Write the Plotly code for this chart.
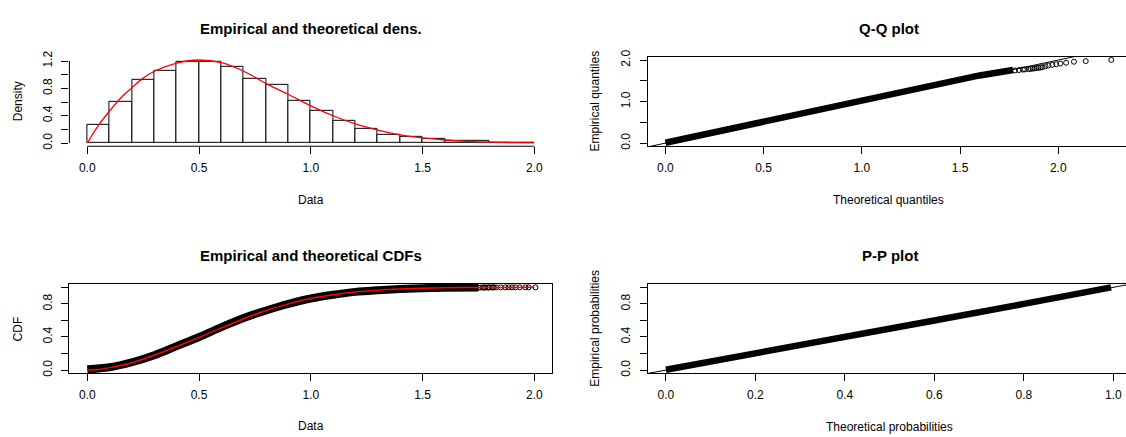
import plotly.graph_objects as go

W, H = 1126, 437

# ---------------- data ----------------
# Histogram of the data (density scale), bins of width 0.1
bin_lefts = [0.0, 0.1, 0.2, 0.3, 0.4, 0.5, 0.6, 0.7, 0.8, 0.9,
             1.0, 1.1, 1.2, 1.3, 1.4, 1.5, 1.6, 1.7, 1.8, 1.9]
bin_density = [0.271, 0.600, 0.918, 1.057, 1.194, 1.194, 1.109, 0.943, 0.847, 0.619,
               0.476, 0.323, 0.209, 0.123, 0.095, 0.057, 0.038, 0.028, 0.010, 0.003]
bin_width = 0.1

# Theoretical density (red curve)
dens_x = [0.0, 0.05, 0.1, 0.15, 0.2, 0.25, 0.3, 0.4, 0.5, 0.6, 0.7, 0.8,
          0.9, 1.0, 1.1, 1.2, 1.3, 1.4, 1.5, 1.6, 1.7, 1.8, 1.9, 2.0]
dens_y = [0.0, 0.26, 0.47, 0.66, 0.81, 0.95, 1.05, 1.17, 1.215, 1.175, 1.05, 0.87,
          0.71, 0.545, 0.40, 0.28, 0.19, 0.12, 0.075, 0.045, 0.026, 0.014, 0.008, 0.004]

# Q-Q plot: dense body of points (theoretical vs empirical quantiles)
qq_body_theo = [0.0, 0.25, 0.5, 0.79, 1.0, 1.25, 1.5, 1.6, 1.77]
qq_body_emp = [0.01, 0.26, 0.51, 0.81, 1.02, 1.26, 1.51, 1.63, 1.76]
# Q-Q plot: separated upper-tail points
tail_theo_q = [1.78, 1.80, 1.82, 1.83, 1.85, 1.86, 1.87, 1.88, 1.89, 1.90, 1.91,
               1.92, 1.935, 1.95, 1.97, 1.99, 2.01, 2.04, 2.08, 2.14, 2.27]
tail_emp = [1.75, 1.76, 1.77, 1.775, 1.78, 1.79, 1.795, 1.80, 1.81, 1.815, 1.82,
            1.83, 1.85, 1.87, 1.885, 1.90, 1.915, 1.935, 1.96, 1.975, 2.005]
identity_ref = [-0.2, 2.6]

# Empirical CDF (dense body of points) and its upper tail
cdf_body_x = [0.0, 0.1, 0.2, 0.3, 0.4, 0.5, 0.6, 0.7, 0.8, 0.9,
              1.0, 1.1, 1.2, 1.3, 1.4, 1.5, 1.6, 1.75]
cdf_body_y = [0.01, 0.035, 0.095, 0.18, 0.29, 0.40, 0.52, 0.63, 0.72, 0.80,
              0.865, 0.91, 0.945, 0.965, 0.98, 0.99, 0.995, 0.997]
cdf_tail_y = [0.9972, 0.9974, 0.9976, 0.9978, 0.998, 0.9982, 0.9984, 0.9986, 0.9988, 0.999, 0.9991,
              0.9992, 0.9993, 0.9994, 0.9995, 0.9996, 0.9997, 0.9998, 0.9999, 0.99995, 1.0]
# Theoretical CDF (red line)
cdf_theo_x = [0.0, 0.05, 0.1, 0.2, 0.3, 0.4, 0.5, 0.6, 0.7, 0.8, 0.9, 1.0,
              1.1, 1.2, 1.3, 1.4, 1.5, 1.6, 1.7, 1.8, 1.9, 2.0]
cdf_theo_y = [0.0, 0.008, 0.03, 0.09, 0.18, 0.285, 0.395, 0.51, 0.62, 0.72, 0.80, 0.865,
              0.91, 0.943, 0.965, 0.98, 0.989, 0.994, 0.997, 0.998, 0.999, 1.0]

# P-P plot: dense body of points
pp_theo = [0.0, 0.2, 0.4, 0.6, 0.8, 0.995]
pp_emp = [0.005, 0.21, 0.405, 0.6, 0.8, 1.0]

# Tick labels
hist_xticks = [0.0, 0.5, 1.0, 1.5, 2.0]
hist_yticks = [0.0, 0.2, 0.4, 0.6, 0.8, 1.0, 1.2]
hist_ytext = ["0.0", "", "0.4", "", "0.8", "", "1.2"]
qq_xticks = [0.0, 0.5, 1.0, 1.5, 2.0]
qq_yticks = [0.0, 0.5, 1.0, 1.5, 2.0]
qq_ytext = ["0.0", "", "1.0", "", "2.0"]
prob_ticks = [0.0, 0.2, 0.4, 0.6, 0.8, 1.0]
prob_ytext = ["0.0", "", "0.4", "", "0.8", ""]

# ---------------- figure ----------------
FONT = "Liberation Sans, Arial, sans-serif"
fig = go.Figure()

fig.add_trace(go.Bar(x=[l + bin_width / 2 for l in bin_lefts], y=bin_density, width=bin_width,
                     marker=dict(color="white", line=dict(color="black", width=1)),
                     xaxis="x", yaxis="y", showlegend=False))
fig.add_trace(go.Scatter(x=dens_x, y=dens_y, mode="lines",
                         line=dict(color="red", width=1.3, shape="spline"),
                         xaxis="x", yaxis="y", showlegend=False))

fig.add_trace(go.Scatter(x=qq_body_theo, y=qq_body_emp, mode="lines",
                         line=dict(color="black", width=6.5),
                         xaxis="x2", yaxis="y2", showlegend=False))
fig.add_trace(go.Scatter(x=tail_theo_q, y=tail_emp, mode="markers",
                         marker=dict(symbol="circle-open", size=5, color="black", line=dict(width=1)),
                         xaxis="x2", yaxis="y2", showlegend=False))
fig.add_trace(go.Scatter(x=identity_ref, y=identity_ref, mode="lines",
                         line=dict(color="black", width=1),
                         xaxis="x2", yaxis="y2", showlegend=False))

fig.add_trace(go.Scatter(x=cdf_body_x, y=cdf_body_y, mode="lines",
                         line=dict(color="black", width=8, shape="spline"),
                         xaxis="x3", yaxis="y3", showlegend=False))
fig.add_trace(go.Scatter(x=tail_emp, y=cdf_tail_y, mode="markers",
                         marker=dict(symbol="circle-open", size=5, color="black", line=dict(width=1)),
                         xaxis="x3", yaxis="y3", showlegend=False))
fig.add_trace(go.Scatter(x=cdf_theo_x, y=cdf_theo_y, mode="lines",
                         line=dict(color="red", width=1.5, shape="spline"),
                         xaxis="x3", yaxis="y3", showlegend=False))

fig.add_trace(go.Scatter(x=pp_theo, y=pp_emp, mode="lines",
                         line=dict(color="black", width=6.5),
                         xaxis="x4", yaxis="y4", showlegend=False))
fig.add_trace(go.Scatter(x=identity_ref, y=identity_ref, mode="lines",
                         line=dict(color="black", width=1),
                         xaxis="x4", yaxis="y4", showlegend=False))


def dx(a, b):
    return [a / W, b / W]


def dy(top, bottom):
    return [1 - bottom / H, 1 - top / H]


TOP = (51, 142.5)
BOT = (283.5, 375)
LEFT = (69.4, 552.2)
RIGHT = (648, 1126)

tickfont = dict(family=FONT, size=12, color="black")
common = dict(ticks="outside", ticklen=7, tickwidth=1, tickcolor="black",
              showgrid=False, zeroline=False, tickfont=tickfont, fixedrange=True)
xcommon = dict(ticklabelstandoff=3, **common)
ycommon = dict(ticklabelstandoff=5, tickangle=-90, **common)

fig.update_layout(
    width=W, height=H, autosize=False,
    margin=dict(l=0, r=0, t=0, b=0),
    paper_bgcolor="white", plot_bgcolor="white",
    bargap=0,
    xaxis=dict(domain=dx(*LEFT), range=[-0.08, 2.08], anchor="y",
               tickvals=hist_xticks, ticktext=["%.1f" % v for v in hist_xticks],
               showline=False, **xcommon),
    yaxis=dict(domain=dy(*TOP), range=[-0.046, 1.261], anchor="x",
               tickvals=hist_yticks, ticktext=hist_ytext,
               showline=False, **ycommon),
    xaxis2=dict(domain=dx(*RIGHT), range=[-0.0886, 2.345], anchor="y2",
                tickvals=qq_xticks, ticktext=["%.1f" % v for v in qq_xticks],
                showline=True, mirror=True, linecolor="black", linewidth=1, **xcommon),
    yaxis2=dict(domain=dy(*TOP), range=[-0.075, 2.078], anchor="x2",
                tickvals=qq_yticks, ticktext=qq_ytext,
                showline=True, mirror=False, linecolor="black", linewidth=1, **ycommon),
    xaxis3=dict(domain=dx(*LEFT), range=[-0.08, 2.08], anchor="y3",
                tickvals=hist_xticks, ticktext=["%.1f" % v for v in hist_xticks],
                showline=True, mirror=True, linecolor="black", linewidth=1, **xcommon),
    yaxis3=dict(domain=dy(*BOT), range=[-0.04, 1.04], anchor="x3",
                tickvals=prob_ticks, ticktext=prob_ytext,
                showline=True, mirror=True, linecolor="black", linewidth=1, **ycommon),
    xaxis4=dict(domain=dx(*RIGHT), range=[-0.04, 1.0284], anchor="y4",
                tickvals=prob_ticks, ticktext=["%.1f" % v for v in prob_ticks],
                showline=True, mirror=True, linecolor="black", linewidth=1, **xcommon),
    yaxis4=dict(domain=dy(*BOT), range=[-0.04, 1.04], anchor="x4",
                tickvals=prob_ticks, ticktext=prob_ytext,
                showline=True, mirror=False, linecolor="black", linewidth=1, **ycommon),
)

# R-style detached axis lines for the histogram panel
fig.add_shape(type="line", xref="x", yref="paper", x0=hist_xticks[0], x1=hist_xticks[-1],
              y0=1 - TOP[1] / H, y1=1 - TOP[1] / H, line=dict(color="black", width=1))
fig.add_shape(type="line", xref="paper", yref="y", x0=LEFT[0] / W, x1=LEFT[0] / W,
              y0=hist_yticks[0], y1=hist_yticks[-1], line=dict(color="black", width=1))


def ann(text, x, y, size=12, bold=False, angle=0):
    fig.add_annotation(text=("<b>%s</b>" % text) if bold else text,
                       x=x / W, y=1 - y / H, xref="paper", yref="paper",
                       xanchor="center", yanchor="middle", showarrow=False,
                       textangle=angle, font=dict(family=FONT, size=size, color="black"))


ann("Empirical and theoretical dens.", 310.8, 21.7, 15, True)
ann("Q-Q plot", 888.5, 21.7, 15, True)
ann("Empirical and theoretical CDFs", 310.8, 254, 15, True)
ann("P-P plot", 889.5, 254, 15, True)

ann("Data", 310.8, 197.3)
ann("Theoretical quantiles", 888.5, 197.3)
ann("Data", 310.8, 429.3)
ann("Theoretical probabilities", 889.5, 430)

ann("Density", 17.7, 96.75, angle=-90)
ann("Empirical quantiles", 595, 96.75, angle=-90)
ann("CDF", 17.7, 329.25, angle=-90)
ann("Empirical probabilities", 595, 329.25, angle=-90)

fig.write_html("out.html", config={"displayModeBar": False},
               post_script="document.body.style.margin='0';document.body.style.overflow='hidden';")
